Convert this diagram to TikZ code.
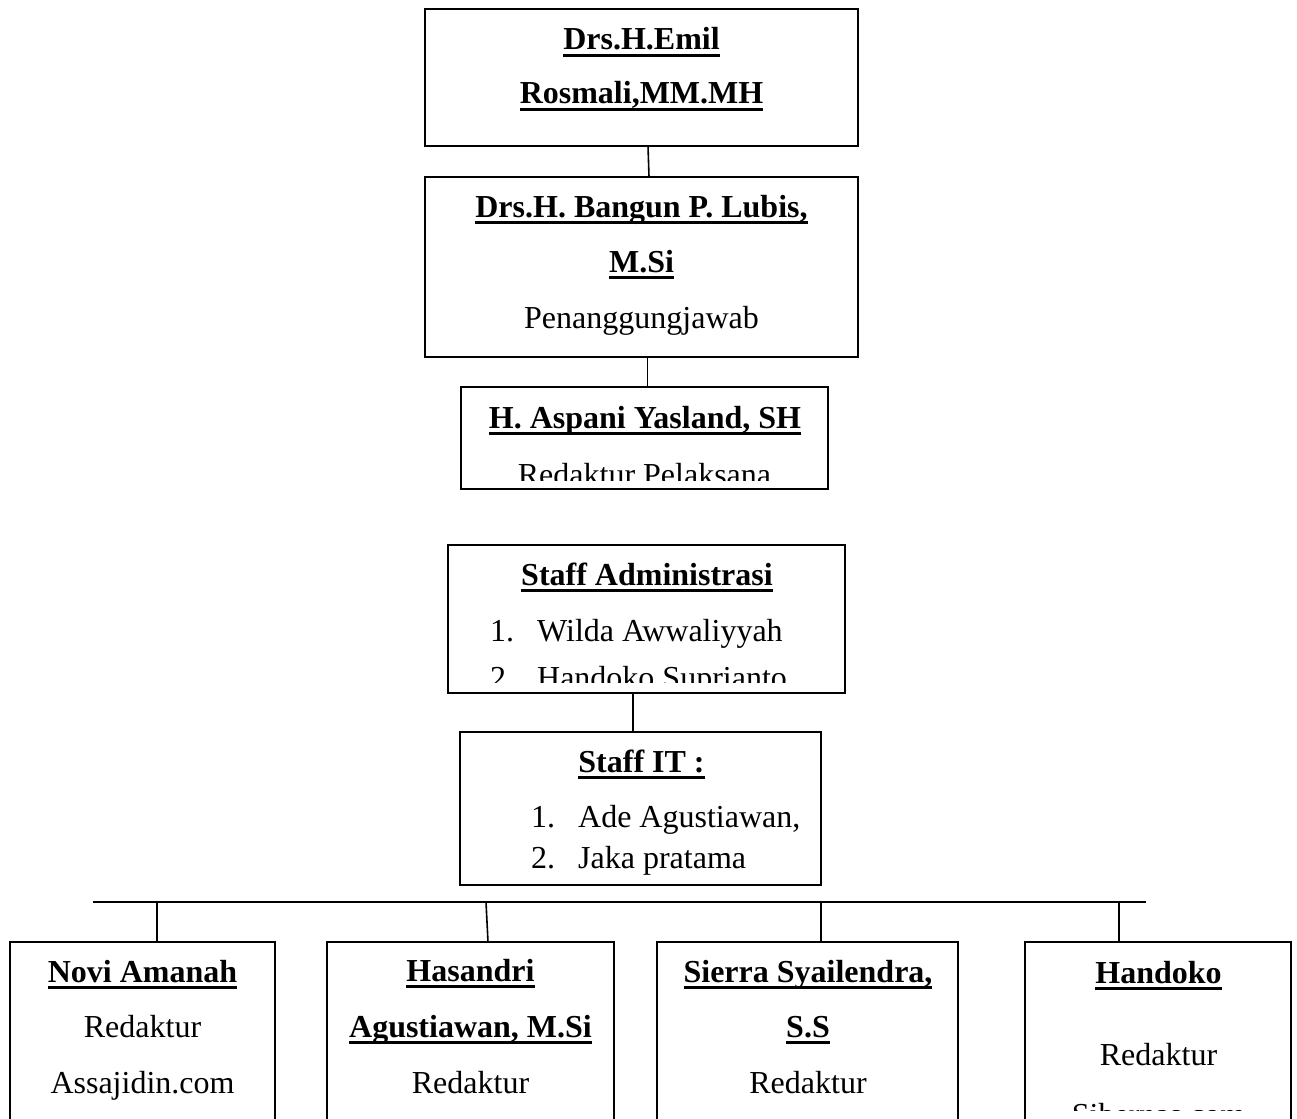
\documentclass[tikz,border=0pt]{standalone}
\usepackage{fontspec}
\setmainfont{Liberation Serif}
\newcommand\myul[1]{\sbox0{#1}\rlap{\rule[-6.8pt]{\wd0}{3pt}}\usebox0}
\begin{document}
\begin{tikzpicture}[x=1pt,y=-1pt,
  box/.style={draw, line width=1.8pt, inner sep=0pt, outer sep=0pt, rectangle},
  conn/.style={line width=1.6pt},
  txt/.style={anchor=base, inner sep=0pt, font=\fontsize{32}{38}\selectfont},
  bt/.style={anchor=base, inner sep=0pt, font=\fontsize{32}{38}\selectfont\bfseries},
  lst/.style={anchor=base west, inner sep=0pt, font=\fontsize{32}{38}\selectfont}]
\clip (0,0) rectangle (1297,1118);
\fill[white] (0,0) rectangle (1297,1118);

% boxes
\node[box, minimum width=433pt, minimum height=137pt] (top) at (641.5,77.5) {};
\node[box, minimum width=433pt, minimum height=180pt] (b2) at (641.5,267) {};
\node[box, minimum width=367pt, minimum height=102pt] (b3) at (644.5,438) {};
\node[box, minimum width=397pt, minimum height=148pt] (adm) at (646.5,619) {};
\node[box, minimum width=361pt, minimum height=153pt] (it) at (640.5,808.5) {};
\node[box, minimum width=265pt, minimum height=240pt] (ba) at (142.5,1062) {};
\node[box, minimum width=287pt, minimum height=240pt] (bb) at (470.5,1062) {};
\node[box, minimum width=301pt, minimum height=240pt] (bc) at (807.5,1062) {};
\node[box, minimum width=266pt, minimum height=240pt] (bd) at (1158,1062) {};

% texts
\node[bt] (t1a) at (641.5,50) {\myul{Drs.H.Emil}};
\node[bt] (t1b) at (641.5,104) {\myul{Rosmali,MM.MH}};
\node[bt] (t2a) at (641.5,217) {\myul{Drs.H. Bangun P. Lubis,}};
\node[bt] (t2b) at (641.5,272) {\myul{M.Si}};
\node[txt] (t2c) at (641.5,328) {Penanggungjawab};
\node[bt] (t3a) at (645,428) {\myul{H. Aspani Yasland, SH}};
\begin{scope}
  \clip (462,389) rectangle (827,480);
  \node[txt] (t3b) at (644.5,485) {Redaktur Pelaksana};
\end{scope}
\node[bt] (t4a) at (647,585) {\myul{Staff Administrasi}};
\begin{scope}
  \clip (449,547) rectangle (844,682);
  \node[lst] (t4b) at (490,641) {\makebox[47pt][l]{1.}Wilda Awwaliyyah};
  \node[lst] (t4c) at (490,688) {\makebox[47pt][l]{2.}Handoko Suprianto};
\end{scope}
\node[bt] (t5a) at (641.5,772) {\myul{Staff IT :}};
\node[lst] (t5b) at (531,827) {\makebox[47pt][l]{1.}Ade Agustiawan,};
\node[lst] (t5c) at (531,868) {\makebox[47pt][l]{2.}Jaka pratama};

\node[bt] (ta1) at (142.5,982) {\myul{Novi Amanah}};
\node[txt] (ta2) at (142.5,1037) {Redaktur};
\node[txt] (ta3) at (142.5,1093) {Assajidin.com};

\node[bt] (tb1) at (470.5,981) {\myul{Hasandri}};
\node[bt] (tb2) at (470.5,1037) {\myul{Agustiawan, M.Si}};
\node[txt] (tb3) at (470.5,1093) {Redaktur};

\node[bt] (tc1) at (808,982) {\myul{Sierra Syailendra,}};
\node[bt] (tc2) at (808,1037) {\myul{S.S}};
\node[txt] (tc3) at (808,1093) {Redaktur};

\node[bt] (td1) at (1158.5,983) {\myul{Handoko}};
\node[txt] (td2) at (1158.5,1065) {Redaktur};
\begin{scope}
  \clip (1027,944) rectangle (1289,1110);
  \node[txt] (td3) at (1158.5,1125) {Sibernas.com};
\end{scope}

% connectors
\draw[conn] ([xshift=6.5pt]top.south) -- ([xshift=7.5pt]b2.north);
\draw[conn] ([xshift=6pt]b2.south) -- ([xshift=3pt]b3.north);
\draw[conn] ([xshift=-13.5pt]adm.south) -- ([xshift=-7.5pt]it.north);

\coordinate (busL) at (93,902);
\coordinate (busR) at (1146,902);
\draw[conn] (busL) -- (busR);
\draw[conn] ([xshift=14.5pt]ba.north) -- ([xshift=14.5pt]ba.north |- busL);
\draw[conn] ([xshift=17.5pt]bb.north) -- ([xshift=15.5pt]bb.north |- busL);
\draw[conn] ([xshift=13.5pt]bc.north) -- ([xshift=13.5pt]bc.north |- busL);
\draw[conn] ([xshift=-39pt]bd.north) -- ([xshift=-39pt]bd.north |- busL);
\end{tikzpicture}
\end{document}
